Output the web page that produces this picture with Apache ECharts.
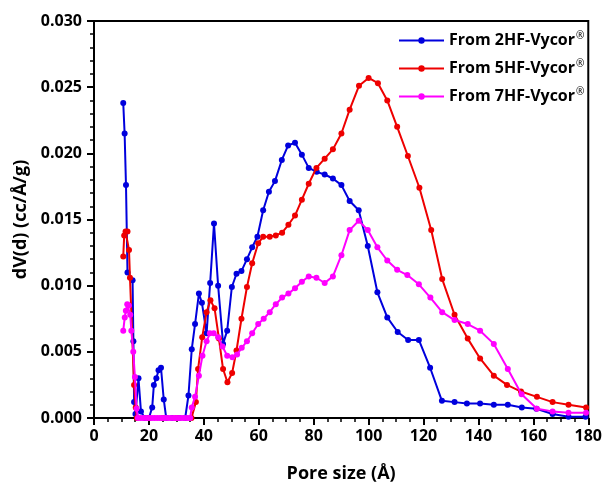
<!DOCTYPE html>
<html>
<head>
<meta charset="utf-8">
<script src="https://cdn.jsdelivr.net/npm/echarts@6/dist/echarts.min.js"></script>
<style>html,body{margin:0;padding:0;background:#fff;}#c{width:605px;height:488px;}</style>
</head>
<body>
<div id="c"></div>
<script>
var seriesNames = ['From 2HF-Vycor', 'From 5HF-Vycor', 'From 7HF-Vycor'];
var xTicks = [0, 20, 40, 60, 80, 100, 120, 140, 160, 180];
var yTicks = [0.000, 0.005, 0.010, 0.015, 0.020, 0.025, 0.030];

var blueX = [10.65,11.15,11.65,12.2,14.05,14.35,14.6,15.1,16.2,17.1,18.5,20.0,21.2,21.8,22.7,23.5,24.4,25.4,26.3,28.5,31.0,33.2,34.4,35.6,36.8,38.2,39.3,41.0,42.3,43.7,45.2,47.0,48.5,50.2,51.9,53.7,55.7,57.6,59.5,61.6,63.7,65.9,68.4,70.7,73.2,75.7,78.2,81.1,84.0,87.0,90.1,93.1,96.4,99.7,103.2,106.8,110.6,114.4,118.3,122.4,126.7,131.3,135.8,140.6,145.6,150.7,155.8,161.1,167.0,172.8,179.0];
var blueY = [0.0238,0.0215,0.0176,0.0110,0.0104,0.0058,0.0012,0.0003,0.0030,0.0005,0,0,0.0008,0.0025,0.0030,0.0036,0.0038,0.0014,0,0,0,0,0.0017,0.0052,0.0071,0.0094,0.0087,0.0064,0.0102,0.0147,0.0100,0.0056,0.0066,0.0099,0.0109,0.0111,0.0120,0.0129,0.0137,0.0157,0.0171,0.0179,0.0195,0.0206,0.0208,0.0199,0.0189,0.0186,0.0184,0.0181,0.0176,0.0164,0.0157,0.0130,0.0095,0.0076,0.0065,0.0059,0.0059,0.0038,0.0013,0.0012,0.0011,0.0011,0.0010,0.0010,0.0008,0.0007,0.0003,0.0001,0.0001];

var redX = [10.65,11.0,11.5,12.2,12.75,13.1,14.6,15.2,15.6,20.0,25.0,30.0,35.5,37.1,37.9,39.4,41.0,42.4,43.9,45.5,47.0,48.6,50.3,51.9,53.7,55.7,57.6,59.8,61.6,64.0,66.2,68.5,70.8,73.2,75.7,78.2,81.0,84.0,87.0,90.1,93.1,96.5,100.0,103.4,106.8,110.4,114.3,118.5,122.8,126.8,131.3,136.1,140.6,145.6,150.4,155.5,161.3,167.0,172.8,179.2];
var redY = [0.0122,0.0138,0.0141,0.0141,0.0127,0.0106,0.0025,0.0008,0,0,0,0,0,0.0012,0.0037,0.0061,0.0080,0.0089,0.0083,0.0060,0.0037,0.0027,0.0034,0.0051,0.0075,0.0099,0.0117,0.0132,0.0137,0.0137,0.0138,0.0140,0.0146,0.0153,0.0165,0.0177,0.0189,0.0196,0.0203,0.0215,0.0233,0.0251,0.0257,0.0253,0.0240,0.0220,0.0198,0.0174,0.0142,0.0105,0.0078,0.0060,0.0045,0.0032,0.0025,0.0020,0.0016,0.0012,0.0010,0.0008];

var magX = [10.65,11.2,11.6,12.1,12.7,13.2,13.6,14.3,14.9,15.5,16.0,17.0,18.0,19.0,20.0,21.0,22.0,23.0,24.0,25.0,26.0,27.0,28.0,29.0,30.0,31.0,32.0,33.0,34.0,35.0,35.6,36.8,38.2,39.5,41.0,42.2,43.6,45.2,46.8,48.5,50.4,52.1,53.8,55.7,57.6,59.8,61.8,64.0,66.2,68.5,70.8,73.2,75.7,78.2,81.0,84.0,87.0,90.1,93.1,96.4,99.7,103.2,106.8,110.4,114.1,118.3,122.5,126.8,131.3,136.1,140.6,145.6,150.7,155.7,161.3,167.0,172.8,179.2];
var magY = [0.0066,0.0076,0.0081,0.0086,0.0085,0.0078,0.0066,0.0050,0.0031,0.0007,0,0,0,0,0,0,0,0,0,0,0,0,0,0,0,0,0,0,0,0,0.0008,0.0016,0.0032,0.0047,0.0058,0.0064,0.0064,0.0061,0.0054,0.0047,0.0046,0.0048,0.0053,0.0058,0.0064,0.0071,0.0075,0.0080,0.0086,0.0091,0.0094,0.0098,0.0103,0.0107,0.0106,0.0102,0.0107,0.0123,0.0142,0.0149,0.0142,0.0129,0.0119,0.0112,0.0108,0.0101,0.0091,0.0080,0.0074,0.0071,0.0066,0.0056,0.0037,0.0018,0.0007,0.0005,0.0004,0.0004];

function pairs(xs, ys) { return xs.map(function (x, i) { return [x, ys[i]]; }); }

var colors = ['#0000DD', '#EE0000', '#FF00FF'];
var seriesData = [pairs(blueX, blueY), pairs(redX, redY), pairs(magX, magY)];
var FONT = 'Open Sans';

var chart = echarts.init(document.getElementById('c'), null, {renderer: 'canvas'});
chart.setOption({
  animation: false,
  backgroundColor: '#fff',
  grid: {left: 94, right: 15, top: 21, bottom: 70, show: true, borderColor: '#000', borderWidth: 2, backgroundColor: 'transparent'},
  legend: {
    orient: 'vertical', left: 393, top: 26, itemWidth: 45, itemHeight: 8, itemGap: 9,
    data: seriesNames,
    formatter: function (n) { return '{a|' + n + '}{s|®}'; },
    textStyle: {
      rich: {
        a: {fontFamily: FONT, fontWeight: 'bold', fontSize: 16, color: '#000', lineHeight: 19},
        s: {fontFamily: FONT, fontSize: 10, color: '#000', padding: [0, 0, 9, 1], lineHeight: 19}
      }
    }
  },
  xAxis: {
    type: 'value', min: 0, max: 180, interval: 20,
    name: 'Pore size (Å)', nameLocation: 'middle', nameGap: 47,
    nameTextStyle: {fontFamily: FONT, fontWeight: 'bold', fontSize: 18, color: '#000'},
    axisLine: {show: true, lineStyle: {color: '#000', width: 2}},
    axisTick: {show: true, length: 7, lineStyle: {color: '#000', width: 2}},
    minorTick: {show: true, splitNumber: 4, length: 4, lineStyle: {color: '#000', width: 1.5}},
    splitLine: {show: false},
    axisLabel: {fontFamily: FONT, fontWeight: 'bold', fontSize: 16, color: '#000', margin: 10,
      formatter: function (v) { return xTicks.indexOf(v) >= 0 ? String(v) : ''; }}
  },
  yAxis: {
    type: 'value', min: 0, max: 0.030, interval: 0.005,
    name: 'dV(d) (cc/Å/g)', nameLocation: 'middle', nameGap: 63,
    nameTextStyle: {fontFamily: FONT, fontWeight: 'bold', fontSize: 18, color: '#000'},
    axisLine: {show: true, lineStyle: {color: '#000', width: 2}},
    axisTick: {show: true, length: 7, lineStyle: {color: '#000', width: 2}},
    minorTick: {show: true, splitNumber: 5, length: 4, lineStyle: {color: '#000', width: 1.5}},
    splitLine: {show: false},
    axisLabel: {fontFamily: FONT, fontWeight: 'bold', fontSize: 16, color: '#000', margin: 12,
      formatter: function (v) {
        for (var i = 0; i < yTicks.length; i++) { if (Math.abs(yTicks[i] - v) < 1e-9) return yTicks[i].toFixed(3); }
        return '';
      }}
  },
  series: seriesNames.map(function (n, i) {
    return {
      name: n, type: 'line', data: seriesData[i],
      symbol: 'circle', symbolSize: 6, showSymbol: true,
      lineStyle: {color: colors[i], width: 2},
      itemStyle: {color: colors[i]},
      z: 2 + i
    };
  })
});
</script>
</body>
</html>
